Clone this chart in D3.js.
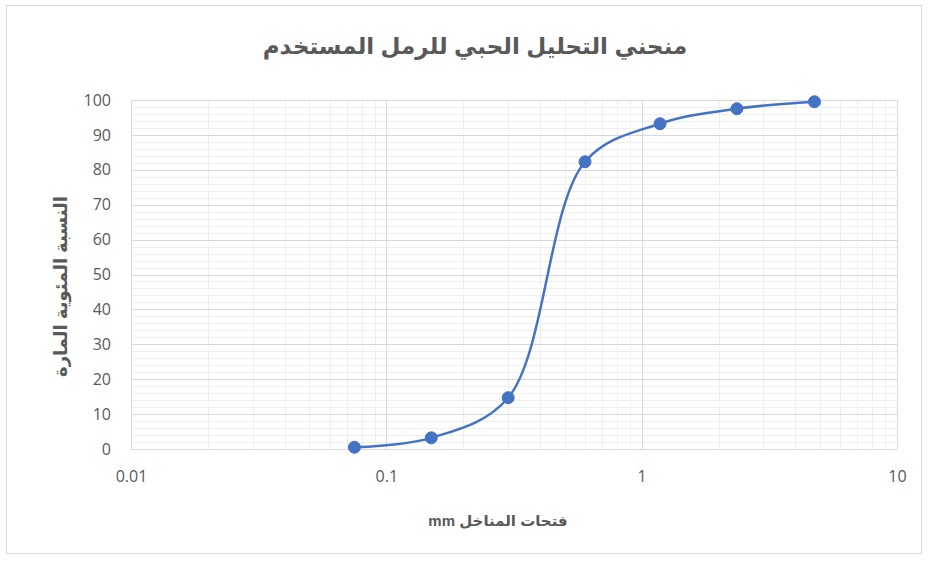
<!DOCTYPE html>
<html>
<head>
<meta charset="utf-8">
<script src="https://cdn.jsdelivr.net/npm/d3@7"></script>
<style>
  html, body { margin: 0; padding: 0; background: #fff; }
  svg { display: block; }
  text { font-family: "Liberation Sans", "DejaVu Sans", sans-serif; }
</style>
</head>
<body>
<svg id="chart" width="931" height="561"></svg>
<script>
// Sieve analysis of the sand used: opening size (mm) vs cumulative percent passing
const sieveSizes = [0.075, 0.15, 0.3, 0.6, 1.18, 2.36, 4.75];
const percentPassing = [0.5, 3.2, 14.7, 82.3, 93.2, 97.5, 99.5];
const xTicks = [0.01, 0.1, 1, 10];
const xTickLabels = ["0.01", "0.1", "1", "10"];
const yTicks = [0, 10, 20, 30, 40, 50, 60, 70, 80, 90, 100];
const titleText = "منحني التحليل الحبي للرمل المستخدم";
const xLabelText = "فتحات المناخل mm";
const yLabelText = "النسبة المئوية المارة";

const svg = d3.select("#chart");
const W = 931, H = 561;
const m = { left: 131, right: 34, top: 100, bottom: 112 };
const pw = W - m.left - m.right, ph = H - m.top - m.bottom;

// outer chart frame
svg.append("rect").attr("x", 6.5).attr("y", 5.5).attr("width", 915).attr("height", 548)
  .attr("fill", "#fff").attr("stroke", "#d9d9d9").attr("stroke-width", 1);

const x = d3.scaleLog().domain([0.01, 10]).range([m.left, m.left + pw]);
const y = d3.scaleLinear().domain([0, 100]).range([m.top + ph, m.top]);

const g = svg.append("g");

// minor gridlines
const minorX = [];
for (let e = -2; e < 1; e++) for (let k = 2; k <= 9; k++) minorX.push(k * Math.pow(10, e));
const minorY = d3.range(0, 101, 2).filter(v => v % 10 !== 0);
g.selectAll("line.mx").data(minorX).join("line")
  .attr("x1", d => Math.round(x(d)) + 0.5).attr("x2", d => Math.round(x(d)) + 0.5)
  .attr("y1", m.top).attr("y2", m.top + ph)
  .attr("stroke", "#efefef").attr("stroke-width", 1);
g.selectAll("line.my").data(minorY).join("line")
  .attr("y1", d => Math.round(y(d)) + 0.5).attr("y2", d => Math.round(y(d)) + 0.5)
  .attr("x1", m.left).attr("x2", m.left + pw)
  .attr("stroke", "#efefef").attr("stroke-width", 1);

// major gridlines
g.selectAll("line.MX").data(xTicks).join("line")
  .attr("x1", d => Math.round(x(d)) + 0.5).attr("x2", d => Math.round(x(d)) + 0.5)
  .attr("y1", m.top).attr("y2", m.top + ph)
  .attr("stroke", "#d9d9d9").attr("stroke-width", 1);
g.selectAll("line.MY").data(yTicks).join("line")
  .attr("y1", d => Math.round(y(d)) + 0.5).attr("y2", d => Math.round(y(d)) + 0.5)
  .attr("x1", m.left).attr("x2", m.left + pw)
  .attr("stroke", "#d9d9d9").attr("stroke-width", 1);

// axes (labels only, Excel-style)
const xAxis = d3.axisBottom(x).tickValues(xTicks).tickFormat((d, i) => xTickLabels[i]).tickSize(0).tickPadding(22);
const yAxis = d3.axisLeft(y).tickValues(yTicks).tickSize(0).tickPadding(20);
const gx = svg.append("g").attr("transform", `translate(0,${m.top + ph})`).call(xAxis);
const gy = svg.append("g").attr("transform", `translate(${m.left},0)`).call(yAxis);
[gx, gy].forEach(a => {
  a.select(".domain").remove();
  a.selectAll("text").attr("fill", "#595959").style("font-size", "16px")
    .style("font-family", "'Open Sans', 'Liberation Sans', sans-serif");
});

// grading curve
const pts = sieveSizes.map((s, i) => [s, percentPassing[i]]);
const line = d3.line().x(d => x(d[0])).y(d => y(d[1])).curve(d3.curveCatmullRom.alpha(0.5));
svg.append("path").datum(pts).attr("d", line)
  .attr("fill", "none").attr("stroke", "#4472c4").attr("stroke-width", 2.5);
svg.selectAll("circle.pt").data(pts).join("circle")
  .attr("cx", d => x(d[0])).attr("cy", d => y(d[1])).attr("r", 6)
  .attr("fill", "#4472c4").attr("stroke", "#4472c4").attr("stroke-width", 1);

// titles
svg.append("text").attr("x", 475).attr("y", 54).attr("text-anchor", "middle")
  .attr("fill", "#595959").style("font-size", "23px").style("font-weight", "bold")
  .attr("direction", "rtl").text(titleText);
svg.append("text").attr("x", m.left + pw / 2 - 16).attr("y", 526).attr("text-anchor", "middle")
  .attr("fill", "#595959").style("font-size", "15px").style("font-weight", "bold")
  .attr("direction", "rtl").text(xLabelText);
svg.append("text").attr("transform", `translate(67,${m.top + ph / 2 + 12}) rotate(-90)`)
  .attr("text-anchor", "middle").attr("fill", "#595959")
  .style("font-size", "18px").style("font-weight", "bold")
  .attr("direction", "rtl").text(yLabelText);
</script>
</body>
</html>
